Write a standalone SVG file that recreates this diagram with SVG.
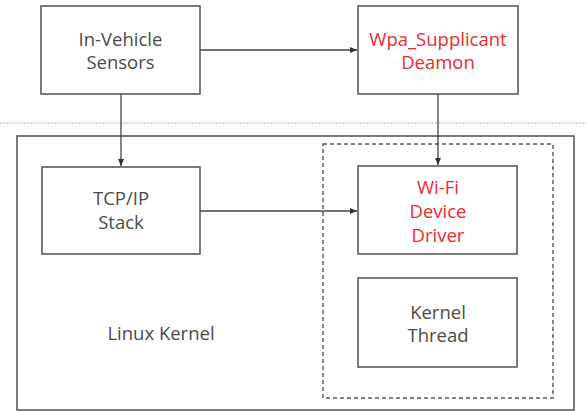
<svg xmlns="http://www.w3.org/2000/svg" width="586" height="411" viewBox="0 0 586 411">
<defs>
<marker id="arr" markerWidth="8" markerHeight="8" refX="7" refY="4" orient="auto" markerUnits="userSpaceOnUse">
<path d="M0,1 L7,4 L0,7 Z" fill="#333"/>
</marker>
</defs>
<style>
.box{fill:#fff;stroke:#5a5a5a;stroke-width:1.6}
.t{font-family:"Open Sans","Noto Sans","DejaVu Sans",sans-serif;font-size:18.5px;fill:#4a4a4a;text-anchor:middle}
.r{fill:#f0282f}
.conn{stroke:#444;stroke-width:1.3;fill:none}
</style>
<rect width="586" height="411" fill="#fff"/>
<line x1="0" y1="123" x2="586" y2="123" stroke="#b0b0b0" stroke-width="1.2" stroke-dasharray="2,1"/>
<g id="linux-kernel">
<rect class="box" x="17" y="136" width="557" height="274"/>
<text class="t" x="161" y="340">Linux Kernel</text>
</g>
<g id="driver-group">
<rect x="323" y="144" width="230" height="254" fill="none" stroke="#555" stroke-width="1.4" stroke-dasharray="4,3"/>
</g>
<g id="in-vehicle">
<rect class="box" x="41" y="6" width="159" height="88"/>
<text class="t" x="120.5" y="46">In-Vehicle</text>
<text class="t" x="120.5" y="69">Sensors</text>
</g>
<g id="wpa">
<rect class="box" x="358" y="6" width="160" height="88"/>
<text class="t r" x="438" y="46">Wpa_Supplicant</text>
<text class="t r" x="438" y="69">Deamon</text>
</g>
<g id="tcpip">
<rect class="box" x="42" y="167" width="158" height="87"/>
<text class="t" x="121" y="205">TCP/IP</text>
<text class="t" x="121" y="229">Stack</text>
</g>
<g id="wifi">
<rect class="box" x="358" y="166" width="159" height="88"/>
<text class="t r" x="438" y="194">Wi-Fi</text>
<text class="t r" x="438" y="218">Device</text>
<text class="t r" x="438" y="242">Driver</text>
</g>
<g id="kthread">
<rect class="box" x="358" y="278" width="159" height="89"/>
<text class="t" x="438" y="319">Kernel</text>
<text class="t" x="438" y="342">Thread</text>
</g>
<g id="connectors">
<line class="conn" x1="200" y1="50" x2="357" y2="50" marker-end="url(#arr)"/>
<line class="conn" x1="121" y1="94" x2="121" y2="166" marker-end="url(#arr)"/>
<line class="conn" x1="438" y1="94" x2="438" y2="165" marker-end="url(#arr)"/>
<line class="conn" x1="200" y1="211" x2="357" y2="211" marker-end="url(#arr)"/>
</g>
</svg>
